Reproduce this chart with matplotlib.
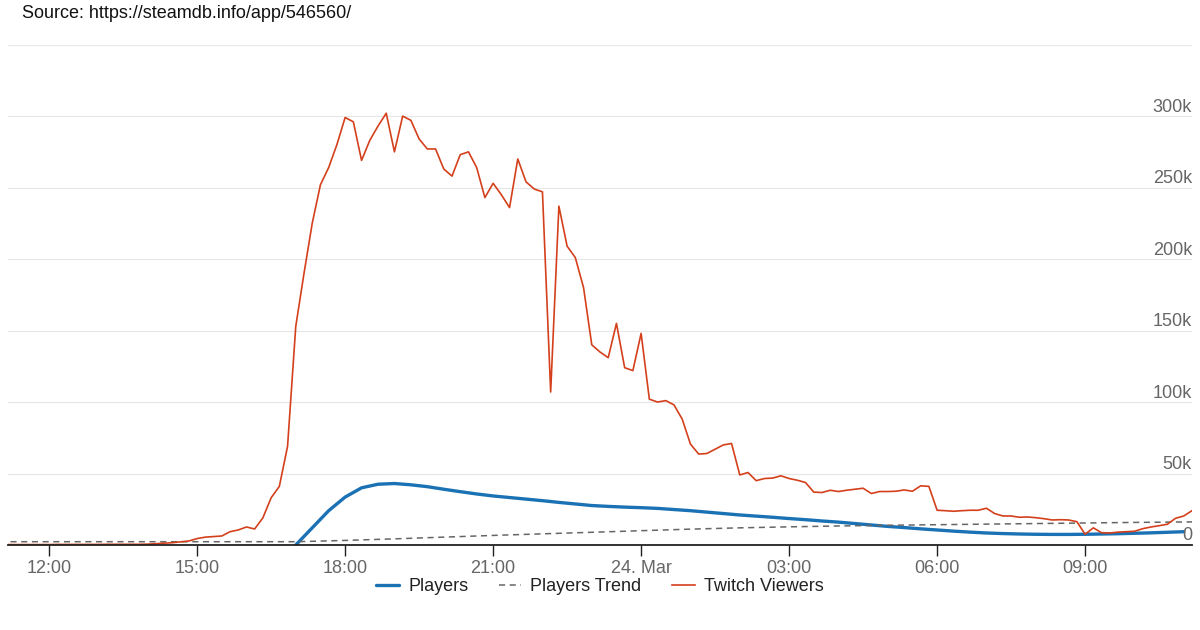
import numpy as np
import pandas as pd
import matplotlib
matplotlib.use("Agg")
import matplotlib.pyplot as plt
import matplotlib.transforms as mtransforms

plt.rcParams['font.family'] = ['Liberation Sans', 'DejaVu Sans']

# twitch viewers, every 10 min starting 23 Mar 11:10 (thousands)
twitch_k = [
    0.3, 0.3, 0.3, 0.3, 0.3, 0.3, 0.4, 0.4, 0.4, 0.4, 0.4, 0.4, 0.5, 0.5, 0.5, 0.5, 0.5,
    0.6, 0.9, 1.3, 1.6, 2.2, 2.8,
    4.5, 5.5, 5.9, 6.3, 9.3, 10.5,
    12.6, 11.2, 19, 33, 41, 69,
    153, 190, 225, 252, 264, 280,
    299, 296, 269, 283, 293, 302,
    275, 300, 297, 284, 277, 277,
    263, 258, 273, 275, 264, 243,
    253, 245, 236, 270, 254, 249,
    247, 107, 237, 209, 201, 180,
    140, 135, 131, 155, 124, 122,
    148, 102, 100, 101, 98, 88,
    70.6, 63.6, 64, 67, 70, 71,
    49, 50.7, 45, 46.5, 46.8, 48.4,
    46.5, 45.3, 43.7, 37, 36.7, 38.3,
    37.4, 38.3, 39, 39.7, 36, 37.4,
    37.4, 37.6, 38.5, 37.6, 41.4, 41,
    24.3, 24, 23.6, 24, 24.3, 24.3,
    25.7, 22, 20.3, 20.3, 19.4, 19.6,
    19.1, 18.4, 17.5, 17.7, 17.5, 16.3,
    7.5, 12, 8.6, 8.4, 9, 9.3,
    9.6, 11.4, 12.6, 13.5, 14.5, 18.7,
    20.3, 24,
]

# players, every 20 min starting 23 Mar 17:00 (thousands)
players_k = [
    0, 12, 24,
    33.5, 40, 42.5,
    43, 42.1, 40.8,
    39, 37.3, 35.7,
    34.3, 33.2, 32.1,
    31, 29.8, 28.7,
    27.6, 27, 26.5,
    26.1, 25.6, 24.8,
    24, 23, 22,
    21, 20.2, 19.4,
    18.5, 17.7, 16.8,
    16, 15, 14,
    13, 12.2, 11.3,
    10.5, 9.7, 9,
    8.4, 8, 7.7,
    7.5, 7.4, 7.4,
    7.5, 7.7, 7.9,
    8.2, 8.5, 8.9,
    9.3,
]

# players trend, hourly starting 23 Mar 11:00 (thousands)
trend_k = [
    2.3, 2.3, 2.3, 2.3, 2.3, 2.3, 2.3,
    3.2, 4.3, 5.5, 6.7, 7.8, 8.9,
    10, 11.1, 12, 12.7, 13.3, 13.8, 14.2,
    14.6, 15, 15.4, 15.8, 16.1, 16.4,
]

tick_labels = ["12:00", "15:00", "18:00", "21:00", "24. Mar", "03:00", "06:00", "09:00"]
y_ticks = [0, 50000, 100000, 150000, 200000, 250000, 300000]

twitch_t = pd.date_range("2020-03-23 11:10", periods=len(twitch_k), freq="10min")
players_t = pd.date_range("2020-03-23 17:00", periods=len(players_k), freq="20min")
trend_t = pd.date_range("2020-03-23 11:00", periods=len(trend_k), freq="60min")
tick_t = pd.date_range("2020-03-23 12:00", periods=len(tick_labels), freq="3h")

twitch = np.array(twitch_k) * 1000
players = np.array(players_k) * 1000
trend = np.array(trend_k) * 1000

FS = 13

fig = plt.figure(figsize=(12, 6.3), dpi=100)
ax = fig.add_axes([8 / 1200, 85 / 630, 1184 / 1200, 500.4 / 630])

ax.plot(players_t, players, color='#1a72b5', lw=2.4, solid_capstyle='round',
        solid_joinstyle='round', label='Players')
ax.plot(trend_t, trend, color='#666666', lw=1.1, dashes=(4, 3), label='Players Trend')
ax.plot(twitch_t, twitch, color='#d4401c', lw=1.2, label='Twitch Viewers')

ax.set_xlim(pd.Timestamp("2020-03-23 11:10"), pd.Timestamp("2020-03-24 11:10"))
ax.set_ylim(0, 350000)

ax.set_yticks(range(0, 350001, 50000))
ax.yaxis.set_tick_params(length=0, labelleft=False)
ax.grid(axis='y', color='#e6e6e6', lw=0.8)
ax.set_axisbelow(True)

ax.set_xticks(tick_t)
ax.set_xticklabels(tick_labels)
ax.tick_params(axis='x', direction='out', length=8, width=1, color='#222222',
               labelcolor='#666666', labelsize=FS, pad=3)

for s in ['top', 'left', 'right']:
    ax.spines[s].set_visible(False)
ax.spines['bottom'].set_color('#222222')
ax.spines['bottom'].set_linewidth(1.3)

# y labels sit just above gridlines, right aligned
offset = mtransforms.ScaledTranslation(0, 0.5 / 100, fig.dpi_scale_trans)
trans = ax.get_yaxis_transform() + offset
for v in y_ticks:
    lab = "0" if v == 0 else f"{v // 1000}k"
    ax.text(1.0, v, lab, transform=trans, ha='right', va='bottom',
            fontsize=FS, color='#666666')

fig.text(22 / 1200, 1 - 4.5 / 630, "Source: https://steamdb.info/app/546560/",
         ha='left', va='top', fontsize=FS, color='#111111')

fig.legend(loc='center', bbox_to_anchor=(0.5, 1 - 586.5 / 630), ncol=3, frameon=False,
           fontsize=FS, handlelength=1.25, handletextpad=0.5, columnspacing=1.7,
           labelcolor='#222222')

fig.savefig("out.png", dpi=100)
